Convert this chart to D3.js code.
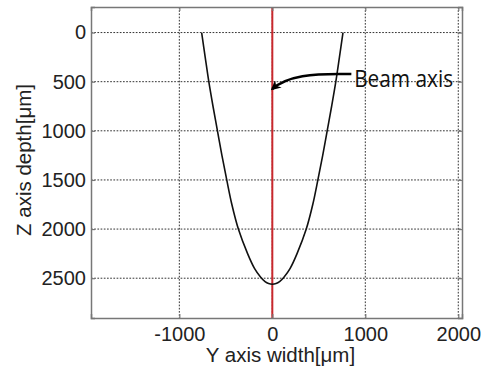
<!DOCTYPE html>
<html lang="en">
<head>
    <meta charset="UTF-8">
    <title>Beam profile</title>
    <script src="https://cdn.jsdelivr.net/npm/d3@7"></script>
    <style>
        body { margin: 0; background: #fff; }
        text { font-family: "Liberation Sans", Arial, sans-serif; }
    </style>
</head>
<body>
    <script>
        // beam profile: width (um) against depth (um)
        var widthY = [-760, -722, -683, -638, -590, -542, -490, -435, -365, -266, -192, -125, -78, -40, 0,
                      40, 78, 125, 192, 266, 365, 435, 490, 542, 590, 638, 683, 722, 760];
        var depthZ = [0, 250, 500, 750, 1000, 1250, 1500, 1750, 2000, 2250, 2400, 2490, 2535, 2555, 2562,
                      2555, 2535, 2490, 2400, 2250, 2000, 1750, 1500, 1250, 1000, 750, 500, 250, 0];

        var xTicks = [-1000, 0, 1000, 2000];
        var yTicks = [0, 500, 1000, 1500, 2000, 2500];
        var xRange = [-1950, 2040];
        var yRange = [-260, 2905];

        // annotation: label position and arrow tip, in data units
        var noteText = "Beam axis";
        var noteY = [880, 552];
        var arrowFrom = [850, 423];
        var arrowTo = [0, 575];

        var width = 481, height = 369;
        var margin = {top: 7, right: 19, bottom: 51, left: 91};

        var svg = d3.select("body").append("svg")
                    .attr("width", width)
                    .attr("height", height);

        var x = d3.scaleLinear().domain(xRange).range([margin.left, width - margin.right]);
        var y = d3.scaleLinear().domain(yRange).range([margin.top, height - margin.bottom]);

        var gridColor = "#333";

        // dotted grid
        svg.append("g").selectAll("line").data(xTicks).enter().append("line")
            .attr("x1", function(d) { return x(d); }).attr("x2", function(d) { return x(d); })
            .attr("y1", y.range()[0]).attr("y2", y.range()[1])
            .attr("stroke", gridColor).attr("stroke-width", 1)
            .attr("stroke-dasharray", "1.7,1.5");
        svg.append("g").selectAll("line").data(yTicks).enter().append("line")
            .attr("y1", function(d) { return y(d); }).attr("y2", function(d) { return y(d); })
            .attr("x1", x.range()[0]).attr("x2", x.range()[1])
            .attr("stroke", gridColor).attr("stroke-width", 1)
            .attr("stroke-dasharray", "1.7,1.5");

        // beam axis
        svg.append("line")
            .attr("x1", x(0)).attr("x2", x(0))
            .attr("y1", y.range()[0]).attr("y2", y.range()[1])
            .attr("stroke", "#c8282d").attr("stroke-width", 2);

        // profile
        var pts = widthY.map(function(v, i) { return [v, depthZ[i]]; });
        var line = d3.line()
                     .x(function(d) { return x(d[0]); })
                     .y(function(d) { return y(d[1]); })
                     .curve(d3.curveCatmullRom.alpha(0.5));
        svg.append("path").datum(pts)
            .attr("d", line)
            .attr("fill", "none")
            .attr("stroke", "#111").attr("stroke-width", 1.6);

        // axes (ticks point inward, box on all sides)
        var axisColor = "#777";
        var fs = "20px";
        var plain = function(d) { return String(d); };

        var gB = svg.append("g").attr("transform", "translate(0," + y.range()[1] + ")")
                    .call(d3.axisBottom(x).tickValues(xTicks).tickFormat(plain).tickSize(-4).tickPadding(9));
        var gL = svg.append("g").attr("transform", "translate(" + x.range()[0] + ",0)")
                    .call(d3.axisLeft(y).tickValues(yTicks).tickFormat(plain).tickSize(-4).tickPadding(5));
        var gT = svg.append("g").attr("transform", "translate(0," + y.range()[0] + ")")
                    .call(d3.axisTop(x).tickValues(xTicks).tickSize(-4).tickFormat(""));
        var gR = svg.append("g").attr("transform", "translate(" + x.range()[1] + ",0)")
                    .call(d3.axisRight(y).tickValues(yTicks).tickSize(-4).tickFormat(""));

        [gB, gL, gT, gR].forEach(function(g) {
            g.select(".domain").attr("stroke", axisColor).attr("stroke-width", 1.5);
            g.selectAll(".tick line").attr("stroke", axisColor).attr("stroke-width", 1.2);
            g.selectAll("text").attr("fill", "#222").style("font-size", fs)
             .style("font-family", "'Liberation Sans', Arial, sans-serif");
        });

        // axis titles
        svg.append("text").text("Y axis width[μm]")
            .attr("x", (x.range()[0] + x.range()[1]) / 2 + 4)
            .attr("y", 362)
            .attr("text-anchor", "middle")
            .attr("fill", "#222").style("font-size", "20.5px");
        svg.append("text").text("Z axis depth[μm]")
            .attr("transform", "translate(31," + 160 + ") rotate(-90)")
            .attr("text-anchor", "middle")
            .attr("fill", "#222").style("font-size", "20.5px");

        // annotation arrow
        svg.append("defs").append("marker")
            .attr("id", "head")
            .attr("viewBox", "0 0 10 10")
            .attr("refX", 8).attr("refY", 5)
            .attr("markerWidth", 4).attr("markerHeight", 4)
            .attr("orient", "auto")
            .append("path")
            .attr("d", "M0,0 L10,5 L0,10 L3,5 Z")
            .attr("fill", "#000");

        var ax0 = x(arrowFrom[0]), ay0 = y(arrowFrom[1]);
        var ax1 = x(arrowTo[0]), ay1 = y(arrowTo[1]);
        svg.append("path")
            .attr("d", "M" + ax0 + "," + ay0 +
                       " C" + (ax0 - 40) + "," + (ay0 - 1) + " " + (ax1 + 15) + "," + (ay0 + 2) + " " + ax1 + "," + ay1)
            .attr("fill", "none")
            .attr("stroke", "#000").attr("stroke-width", 2.5)
            .attr("marker-end", "url(#head)");

        svg.append("text").text(noteText)
            .attr("x", x(noteY[0])).attr("y", y(noteY[1]))
            .attr("fill", "#111")
            .style("font-family", "'Open Sans', 'Noto Sans', sans-serif")
            .style("font-size", "23px")
            .attr("textLength", 99).attr("lengthAdjust", "spacingAndGlyphs");
    </script>
</body>
</html>
